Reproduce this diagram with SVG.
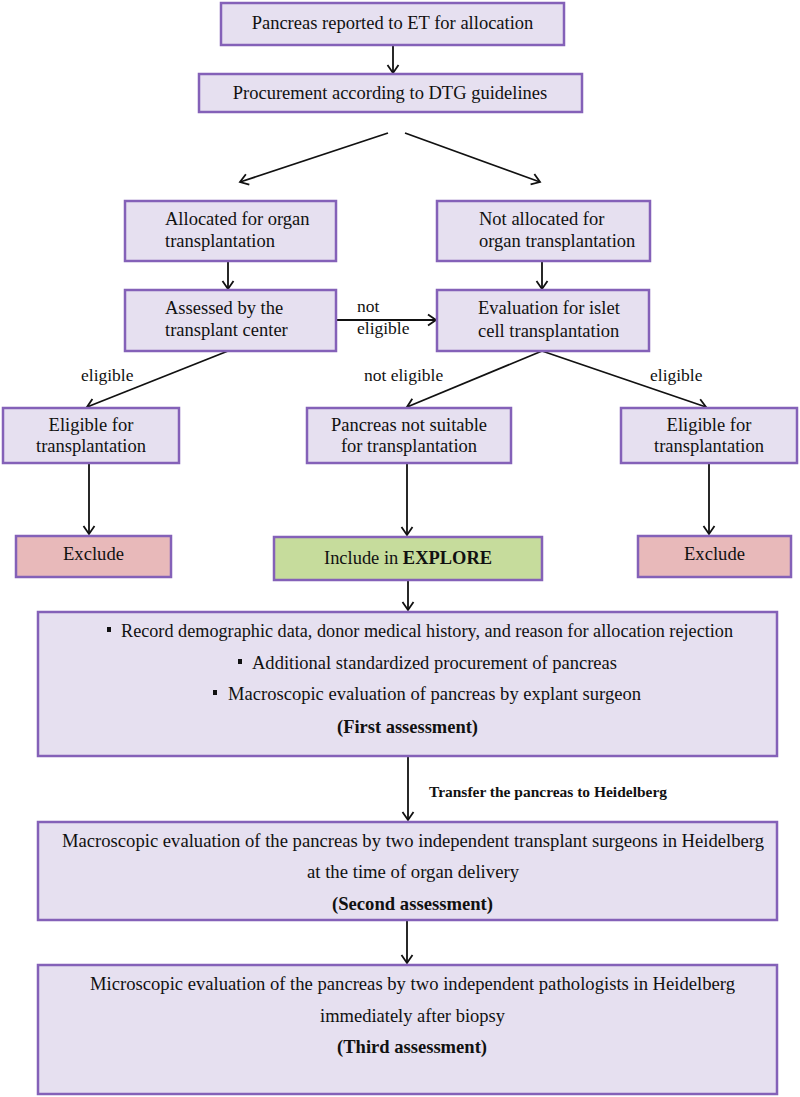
<svg xmlns="http://www.w3.org/2000/svg" width="800" height="1097" viewBox="0 0 800 1097">
<style>
.box{fill:#e6e0f0;stroke:#8461b8;stroke-width:2.5}
.ex{fill:#e8b9ba}
.inc{fill:#c6dc9c}
.ln{stroke:#111;stroke-width:1.8;fill:none}
</style>
<defs>
<marker id="ah" markerUnits="userSpaceOnUse" markerWidth="12" markerHeight="14" refX="8" refY="6" orient="auto" overflow="visible">
<path d="M0,0.5 L8,6 L0,11.5" fill="none" stroke="#111" stroke-width="1.8"/>
</marker>
</defs>
<rect width="800" height="1097" fill="#fff"/>

<g id="connectors">
<line class="ln" x1="393" y1="45" x2="393" y2="73" marker-end="url(#ah)"/>
<line class="ln" x1="388" y1="133" x2="240" y2="182" marker-end="url(#ah)"/>
<line class="ln" x1="405" y1="133" x2="540" y2="182" marker-end="url(#ah)"/>
<line class="ln" x1="228" y1="261" x2="228" y2="289" marker-end="url(#ah)"/>
<line class="ln" x1="542" y1="261" x2="542" y2="289" marker-end="url(#ah)"/>
<line class="ln" x1="336" y1="320" x2="436" y2="320" marker-end="url(#ah)"/>
<line class="ln" x1="228" y1="351" x2="87" y2="407" marker-end="url(#ah)"/>
<line class="ln" x1="542" y1="351" x2="407" y2="407" marker-end="url(#ah)"/>
<line class="ln" x1="542" y1="351" x2="706" y2="407" marker-end="url(#ah)"/>
<line class="ln" x1="89" y1="463" x2="89" y2="534" marker-end="url(#ah)"/>
<line class="ln" x1="407" y1="463" x2="407" y2="535" marker-end="url(#ah)"/>
<line class="ln" x1="709" y1="463" x2="709" y2="534" marker-end="url(#ah)"/>
<line class="ln" x1="408" y1="580" x2="408" y2="610" marker-end="url(#ah)"/>
<line class="ln" x1="408" y1="756" x2="408" y2="820" marker-end="url(#ah)"/>
<line class="ln" x1="407" y1="920" x2="407" y2="963" marker-end="url(#ah)"/>
<text font-family="Liberation Serif" font-size="17.5" fill="#111" x="357" y="312">not</text>
<text font-family="Liberation Serif" font-size="17.5" fill="#111" x="357" y="334">eligible</text>
<text font-family="Liberation Serif" font-size="17.5" fill="#111" x="81" y="381">eligible</text>
<text font-family="Liberation Serif" font-size="17.5" fill="#111" x="364" y="381">not eligible</text>
<text font-family="Liberation Serif" font-size="17.5" fill="#111" x="650" y="381">eligible</text>
<text font-family="Liberation Serif" font-weight="bold" font-size="14" fill="#111" x="429" y="797" textLength="238" lengthAdjust="spacingAndGlyphs">Transfer the pancreas to Heidelberg</text>
</g>

<g id="n1">
<rect class="box" x="221" y="3" width="343" height="42"/>
<text font-family="Liberation Serif" font-size="18.5" fill="#111" text-anchor="middle" x="392.5" y="29">Pancreas reported to ET for allocation</text>
</g>
<g id="n2">
<rect class="box" x="199" y="74" width="383" height="38"/>
<text font-family="Liberation Serif" font-size="18.5" fill="#111" text-anchor="middle" x="390" y="99">Procurement according to DTG guidelines</text>
</g>
<g id="n3">
<rect class="box" x="125" y="201" width="211" height="60"/>
<text font-family="Liberation Serif" font-size="18.5" fill="#111" x="165" y="225">Allocated for organ</text>
<text font-family="Liberation Serif" font-size="18.5" fill="#111" x="165" y="247">transplantation</text>
</g>
<g id="n4">
<rect class="box" x="437" y="201" width="213" height="60"/>
<text font-family="Liberation Serif" font-size="18.5" fill="#111" x="479" y="225">Not allocated for</text>
<text font-family="Liberation Serif" font-size="18.5" fill="#111" x="479" y="247">organ transplantation</text>
</g>
<g id="n5">
<rect class="box" x="125" y="290" width="211" height="61"/>
<text font-family="Liberation Serif" font-size="18.5" fill="#111" x="165" y="314">Assessed by the</text>
<text font-family="Liberation Serif" font-size="18.5" fill="#111" x="165" y="336">transplant center</text>
</g>
<g id="n6">
<rect class="box" x="437" y="290" width="212" height="61"/>
<text font-family="Liberation Serif" font-size="18.5" fill="#111" x="478" y="314">Evaluation for islet</text>
<text font-family="Liberation Serif" font-size="18.5" fill="#111" x="478" y="337">cell transplantation</text>
</g>
<g id="n7">
<rect class="box" x="3" y="408" width="176" height="55"/>
<text font-family="Liberation Serif" font-size="18.5" fill="#111" text-anchor="middle" x="91" y="431">Eligible for</text>
<text font-family="Liberation Serif" font-size="18.5" fill="#111" text-anchor="middle" x="91" y="452">transplantation</text>
</g>
<g id="n8">
<rect class="box" x="307" y="408" width="204" height="55"/>
<text font-family="Liberation Serif" font-size="18.5" fill="#111" text-anchor="middle" x="409" y="431">Pancreas not suitable</text>
<text font-family="Liberation Serif" font-size="18.5" fill="#111" text-anchor="middle" x="409" y="452">for transplantation</text>
</g>
<g id="n9">
<rect class="box" x="621" y="408" width="176" height="55"/>
<text font-family="Liberation Serif" font-size="18.5" fill="#111" text-anchor="middle" x="709" y="431">Eligible for</text>
<text font-family="Liberation Serif" font-size="18.5" fill="#111" text-anchor="middle" x="709" y="452">transplantation</text>
</g>
<g id="n10">
<rect class="box ex" x="16" y="536" width="155" height="41"/>
<text font-family="Liberation Serif" font-size="18.5" fill="#111" x="63" y="560" textLength="61" lengthAdjust="spacingAndGlyphs">Exclude</text>
</g>
<g id="n11">
<rect class="box inc" x="274" y="537" width="268" height="43"/>
<text font-family="Liberation Serif" font-size="18.5" fill="#111" x="324" y="564" textLength="168" lengthAdjust="spacingAndGlyphs">Include in <tspan font-weight="bold">EXPLORE</tspan></text>
</g>
<g id="n12">
<rect class="box ex" x="638" y="536" width="153" height="41"/>
<text font-family="Liberation Serif" font-size="18.5" fill="#111" x="684" y="560" textLength="61" lengthAdjust="spacingAndGlyphs">Exclude</text>
</g>
<g id="n13">
<rect class="box" x="38" y="612" width="739" height="144"/>
<rect x="107" y="627" width="4" height="5" fill="#111"/>
<text font-family="Liberation Serif" font-size="19.5" fill="#111" x="121" y="637" textLength="612" lengthAdjust="spacingAndGlyphs">Record demographic data, donor medical history, and reason for allocation rejection</text>
<rect x="238" y="659" width="4" height="5" fill="#111"/>
<text font-family="Liberation Serif" font-size="19.5" fill="#111" x="252" y="669" textLength="365" lengthAdjust="spacingAndGlyphs">Additional standardized procurement of pancreas</text>
<rect x="213" y="690" width="4" height="5" fill="#111"/>
<text font-family="Liberation Serif" font-size="19.5" fill="#111" x="228" y="700" textLength="413" lengthAdjust="spacingAndGlyphs">Macroscopic evaluation of pancreas by explant surgeon</text>
<text font-family="Liberation Serif" font-weight="bold" font-size="19" fill="#111" x="337" y="733" textLength="141" lengthAdjust="spacingAndGlyphs">(First assessment)</text>
</g>
<g id="n14">
<rect class="box" x="38" y="822" width="739" height="98"/>
<text font-family="Liberation Serif" font-size="19.5" fill="#111" x="62" y="847" textLength="702" lengthAdjust="spacingAndGlyphs">Macroscopic evaluation of the pancreas by two independent transplant surgeons in Heidelberg</text>
<text font-family="Liberation Serif" font-size="19.5" fill="#111" x="307" y="878" textLength="212" lengthAdjust="spacingAndGlyphs">at the time of organ delivery</text>
<text font-family="Liberation Serif" font-weight="bold" font-size="19" fill="#111" x="332" y="910" textLength="161" lengthAdjust="spacingAndGlyphs">(Second assessment)</text>
</g>
<g id="n15">
<rect class="box" x="38" y="965" width="739" height="129"/>
<text font-family="Liberation Serif" font-size="19.5" fill="#111" x="90" y="990" textLength="645" lengthAdjust="spacingAndGlyphs">Microscopic evaluation of the pancreas by two independent pathologists in Heidelberg</text>
<text font-family="Liberation Serif" font-size="19.5" fill="#111" x="320" y="1022" textLength="185" lengthAdjust="spacingAndGlyphs">immediately after biopsy</text>
<text font-family="Liberation Serif" font-weight="bold" font-size="19" fill="#111" x="337" y="1053" textLength="150" lengthAdjust="spacingAndGlyphs">(Third assessment)</text>
</g>
</svg>
